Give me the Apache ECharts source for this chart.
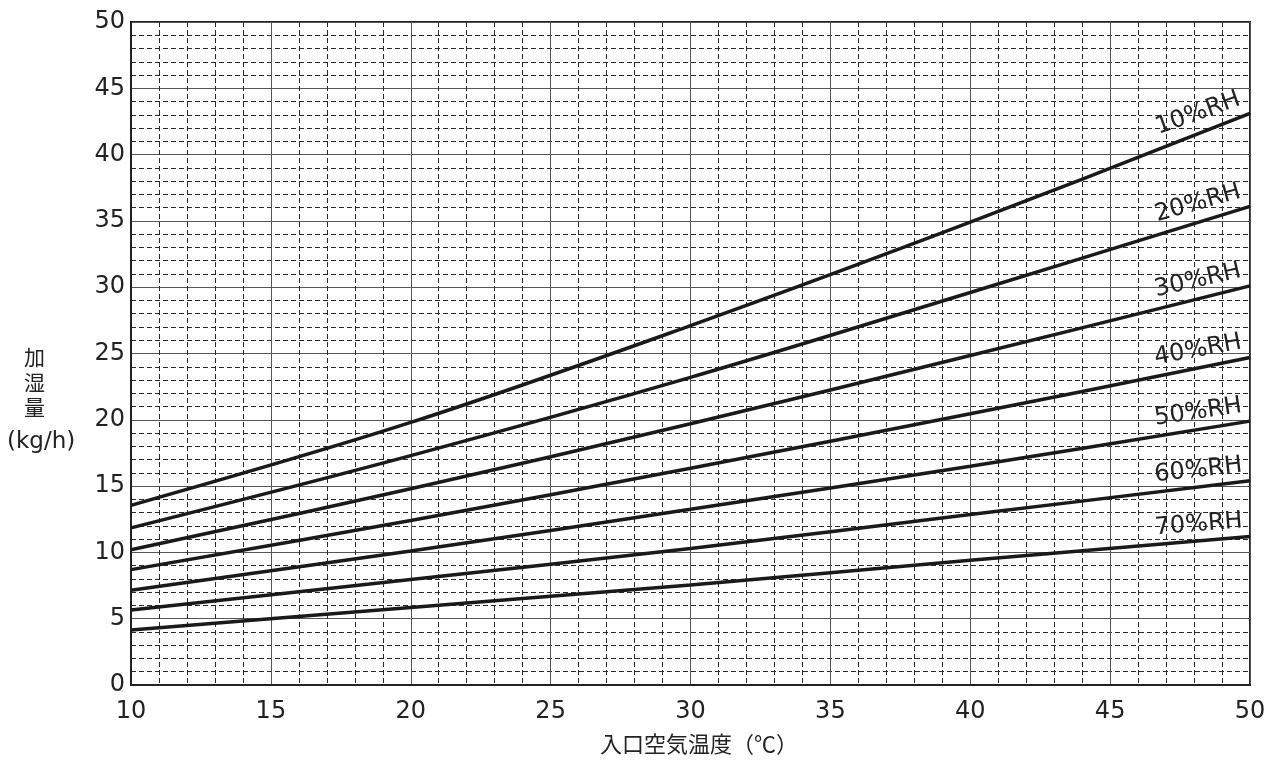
<!DOCTYPE html>
<html><head><meta charset="utf-8">
<script src="https://cdn.jsdelivr.net/npm/echarts@6/dist/echarts.min.js"></script>
<style>html,body{margin:0;padding:0;background:#fff}#c{width:1269px;height:769px}</style>
</head><body><div id="c"></div>
<script>
var temps = [10, 20, 30, 40, 50];
var rh10 = [13.55, 19.8, 27.1, 34.9, 43.1];
var rh20 = [11.85, 17.3, 23.2, 29.6, 36.1];
var rh30 = [10.2, 14.8, 19.7, 24.85, 30.1];
var rh40 = [8.7, 12.4, 16.35, 20.45, 24.7];
var rh50 = [7.15, 10.1, 13.25, 16.5, 19.9];
var rh60 = [5.65, 7.95, 10.3, 12.85, 15.4];
var rh70 = [4.15, 5.85, 7.55, 9.4, 11.2];
var seriesNames = ['10%RH', '20%RH', '30%RH', '40%RH', '50%RH', '60%RH', '70%RH'];
var seriesValues = [rh10, rh20, rh30, rh40, rh50, rh60, rh70];
var xLabel = '入口空気温度（℃）';
var yLabelLines = ['加', '湿', '量', '(kg/h)'];

var FONT = '"DejaVu Sans", "Noto Sans", sans-serif';
var CJK = '"Noto Sans CJK JP", sans-serif';
var chart = echarts.init(document.getElementById('c'), null, {renderer: 'canvas'});

function buildSeries(rotates) {
  return seriesNames.map(function (name, si) {
    var vals = seriesValues[si];
    var data = temps.map(function (t, i) {
      var item = {value: [t, vals[i]]};
      if (i === temps.length - 1) {
        item.symbol = 'circle';
        item.symbolSize = 1;
        item.label = {
          show: true,
          formatter: name,
          position: [-6, -3],
          align: 'right',
          verticalAlign: 'bottom',
          rotate: rotates ? rotates[si] : 0,
          fontSize: 24,
          fontFamily: FONT,
          color: '#222'
        };
      }
      return item;
    });
    return {
      name: name,
      type: 'line',
      data: data,
      symbol: 'none',
      showSymbol: true,
      smooth: 0.35,
      lineStyle: {color: '#1a1a1a', width: 3.5},
      itemStyle: {color: '#1a1a1a'},
      silent: true,
      z: 5
    };
  });
}

var option = {
  animation: false,
  backgroundColor: '#fff',
  grid: {left: 131, right: 19, top: 22, bottom: 84, show: true, borderColor: '#222', borderWidth: 2, backgroundColor: 'transparent'},
  xAxis: {
    type: 'value', min: 10, max: 50, interval: 5,
    minorTick: {show: false, splitNumber: 5},
    minorSplitLine: {show: true, lineStyle: {color: '#2a2a2a', type: [5, 3], width: 1}},
    splitLine: {show: true, lineStyle: {color: '#555', width: 1}},
    axisLine: {show: true, lineStyle: {color: '#222', width: 2}},
    axisTick: {show: false},
    axisLabel: {fontSize: 24, fontFamily: FONT, color: '#222', margin: 15}
  },
  yAxis: {
    type: 'value', min: 0, max: 50, interval: 5,
    minorTick: {show: false, splitNumber: 5},
    minorSplitLine: {show: true, lineStyle: {color: '#2a2a2a', type: [5, 3], width: 1}},
    splitLine: {show: true, lineStyle: {color: '#555', width: 1}},
    axisLine: {show: true, lineStyle: {color: '#222', width: 2}},
    axisTick: {show: false},
    axisLabel: {fontSize: 24, fontFamily: FONT, color: '#222', margin: 6}
  },
  graphic: [
    {type: 'text', left: 600, top: 733, style: {text: xLabel, font: '22px ' + CJK, fill: '#222'}},
    {type: 'text', left: 24, top: 347, style: {text: yLabelLines[0], font: '21px ' + CJK, fill: '#222'}},
    {type: 'text', left: 24, top: 372, style: {text: yLabelLines[1], font: '21px ' + CJK, fill: '#222'}},
    {type: 'text', left: 24, top: 397, style: {text: yLabelLines[2], font: '21px ' + CJK, fill: '#222'}},
    {type: 'text', left: 7, top: 431, style: {text: yLabelLines[3], font: '23px ' + FONT, fill: '#222'}}
  ],
  series: buildSeries(null)
};
chart.setOption(option);

// rotate labels along each line's end segment, measured in pixel space
var rotates = seriesValues.map(function (vals) {
  var n = temps.length;
  var p1 = chart.convertToPixel({gridIndex: 0}, [temps[n - 2], vals[n - 2]]);
  var p2 = chart.convertToPixel({gridIndex: 0}, [temps[n - 1], vals[n - 1]]);
  return Math.atan2(p1[1] - p2[1], p2[0] - p1[0]) * 180 / Math.PI * 0.92;
});
chart.setOption({series: buildSeries(rotates)});
</script>
</body></html>
